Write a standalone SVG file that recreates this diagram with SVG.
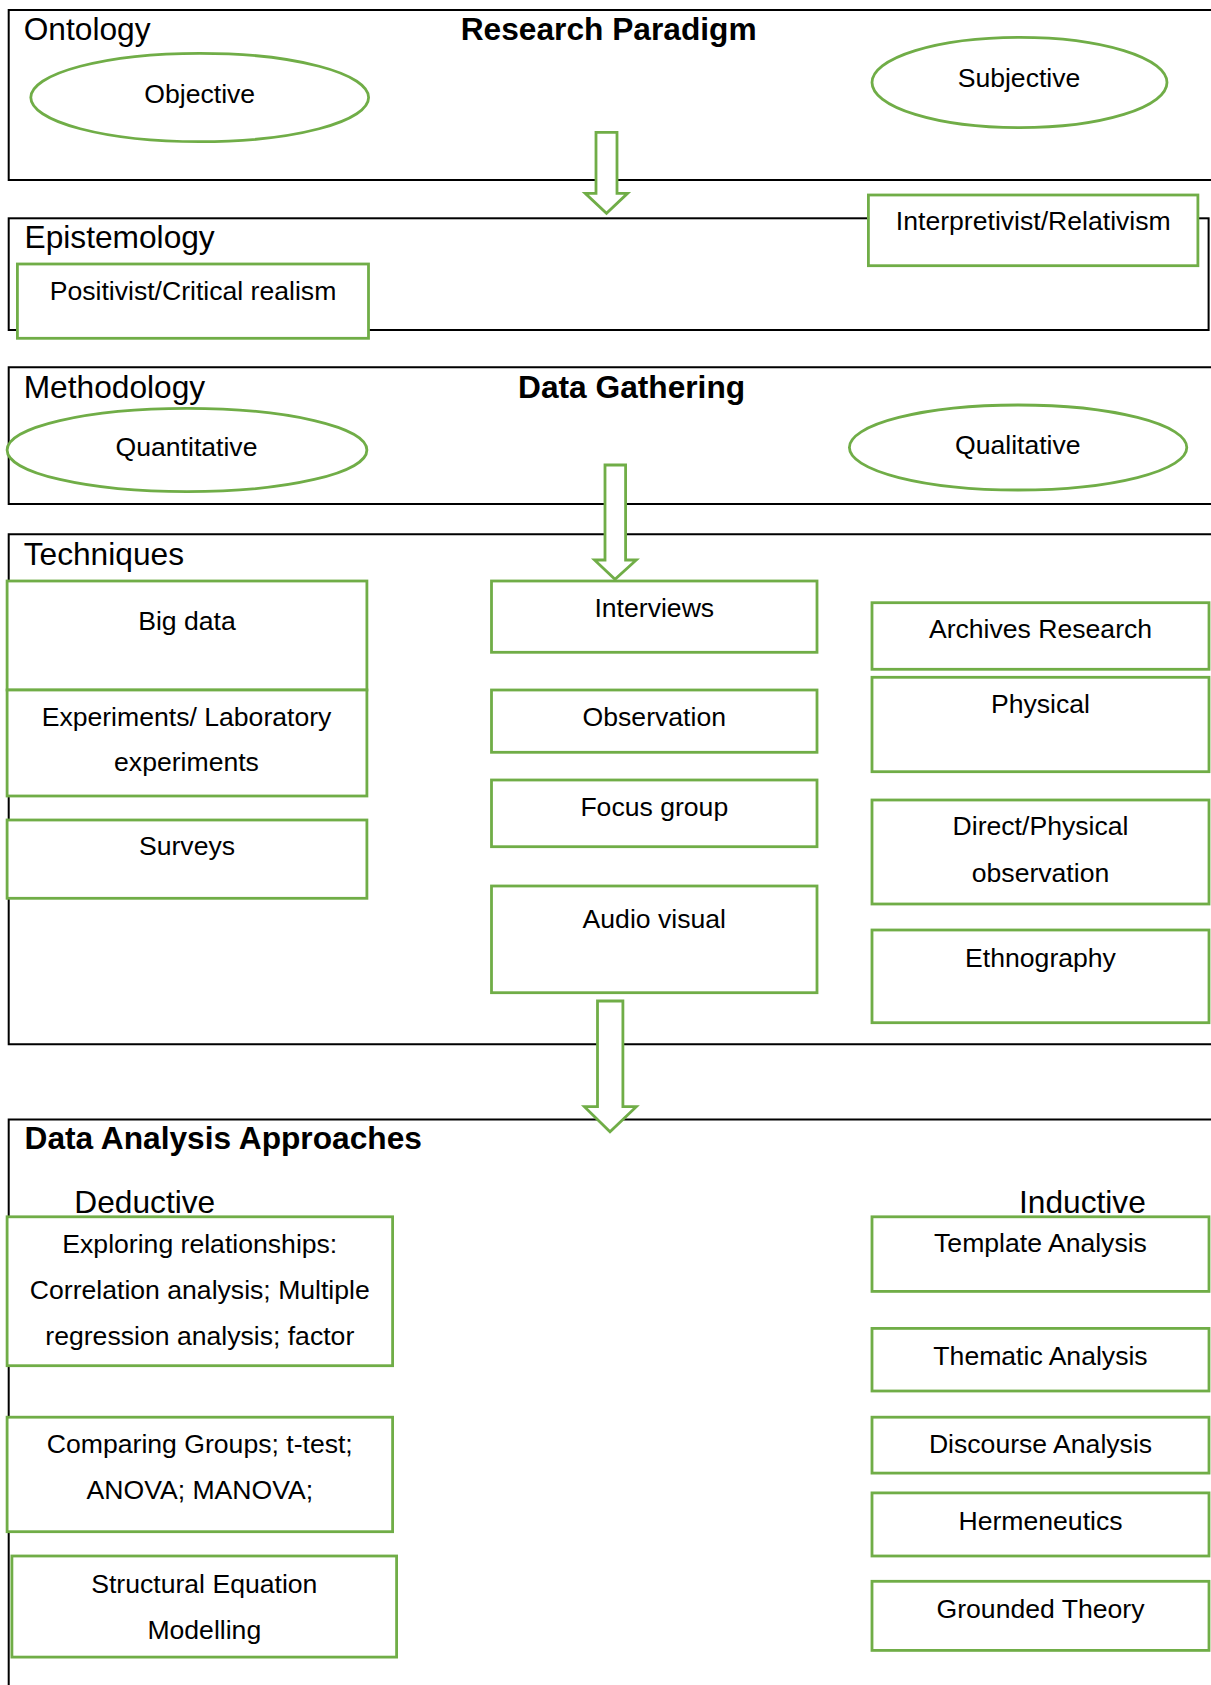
<svg xmlns="http://www.w3.org/2000/svg" width="1211" height="1685" viewBox="0 0 1211 1685">
<style>
.sec{fill:none;stroke:#000;stroke-width:2}
.nd{fill:#fff;stroke:#70AD47;stroke-width:2.8}
.arr{fill:#fff;stroke:#70AD47;stroke-width:2.8;stroke-linejoin:miter}
text{font-family:"Liberation Sans",Arial,sans-serif;fill:#000}
.h{font-size:31.7px}
.hb{font-size:31.7px;font-weight:bold}
.t{font-size:26.6px;text-anchor:middle}
</style>
<rect width="1211" height="1685" fill="#fff"/>
<g id="sections">
  <g id="ontology-section">
    <path class="sec" d="M1215,10 H8.7 V180 H1215"/>
    <text class="h" x="23.7" y="40">Ontology</text>
    <text class="hb" x="460.7" y="40">Research Paradigm</text>
  </g>
  <g id="epistemology-section">
    <rect class="sec" x="8.7" y="218.3" width="1199.9" height="111.7"/>
    <text class="h" x="24.5" y="248">Epistemology</text>
  </g>
  <g id="methodology-section">
    <path class="sec" d="M1215,367.3 H8.7 V504 H1215"/>
    <text class="h" x="23.7" y="398.3">Methodology</text>
    <text class="hb" x="518" y="398.3">Data Gathering</text>
  </g>
  <g id="techniques-section">
    <path class="sec" d="M1215,534.3 H8.7 V1044.3 H1215"/>
    <text class="h" x="23.7" y="565">Techniques</text>
  </g>
  <g id="analysis-section">
    <path class="sec" d="M1215,1119.4 H8.7 V1690"/>
    <text class="hb" x="24.5" y="1149.3">Data Analysis Approaches</text>
    <text class="h" x="74.3" y="1212.7">Deductive</text>
    <text class="h" x="1019" y="1212.7">Inductive</text>
  </g>
</g>
<g id="nodes">
  <g id="objective"><ellipse class="nd" cx="199.7" cy="97.5" rx="168.9" ry="44.2"/><text class="t" x="199.7" y="103.3">Objective</text></g>
  <g id="subjective"><ellipse class="nd" cx="1019.5" cy="82.5" rx="147.5" ry="45.2"/><text class="t" x="1019" y="87.3">Subjective</text></g>
  <g id="positivist"><rect class="nd" x="17.4" y="264" width="351.1" height="74.3"/><text class="t" x="193" y="300">Positivist/Critical realism</text></g>
  <g id="interpretivist"><rect class="nd" x="868.4" y="195" width="329.5" height="70.7"/><text class="t" x="1033.3" y="230">Interpretivist/Relativism</text></g>
  <g id="quantitative"><ellipse class="nd" cx="187" cy="450" rx="179.9" ry="41.7"/><text class="t" x="186.5" y="456">Quantitative</text></g>
  <g id="qualitative"><ellipse class="nd" cx="1018.1" cy="447.5" rx="168.7" ry="42.5"/><text class="t" x="1017.8" y="454">Qualitative</text></g>
  <g id="big-data"><rect class="nd" x="7.1" y="581" width="359.8" height="109"/><text class="t" x="187" y="630">Big data</text></g>
  <g id="experiments"><rect class="nd" x="7.1" y="690" width="359.8" height="106"/><text class="t" x="186.5" y="726">Experiments/ Laboratory</text><text class="t" x="186.5" y="770.7">experiments</text></g>
  <g id="surveys"><rect class="nd" x="7.1" y="820" width="359.8" height="78.3"/><text class="t" x="187" y="855">Surveys</text></g>
  <g id="interviews"><rect class="nd" x="491.5" y="581" width="325.5" height="71.3"/><text class="t" x="654.3" y="616.7">Interviews</text></g>
  <g id="observation"><rect class="nd" x="491.5" y="690" width="325.5" height="62.3"/><text class="t" x="654.3" y="726">Observation</text></g>
  <g id="focus-group"><rect class="nd" x="491.5" y="780" width="325.5" height="66.7"/><text class="t" x="654.3" y="815.5">Focus group</text></g>
  <g id="audio-visual"><rect class="nd" x="491.5" y="886" width="325.5" height="106.7"/><text class="t" x="654.3" y="927.7">Audio visual</text></g>
  <g id="archives"><rect class="nd" x="872" y="602.7" width="337" height="66.6"/><text class="t" x="1040.5" y="638.3">Archives Research</text></g>
  <g id="physical"><rect class="nd" x="872" y="677.3" width="337" height="94.4"/><text class="t" x="1040.5" y="713.3">Physical</text></g>
  <g id="direct-observation"><rect class="nd" x="872" y="800" width="337" height="104"/><text class="t" x="1040.5" y="835">Direct/Physical</text><text class="t" x="1040.5" y="881.7">observation</text></g>
  <g id="ethnography"><rect class="nd" x="872" y="930" width="337" height="92.7"/><text class="t" x="1040.5" y="966.7">Ethnography</text></g>
  <g id="exploring"><rect class="nd" x="7.1" y="1216.8" width="385.5" height="148.9"/><text class="t" x="199.8" y="1253">Exploring relationships:</text><text class="t" x="199.8" y="1298.9">Correlation analysis; Multiple</text><text class="t" x="199.8" y="1345.1">regression analysis; factor</text></g>
  <g id="comparing"><rect class="nd" x="7.1" y="1417.2" width="385.5" height="114.5"/><text class="t" x="199.8" y="1453.4">Comparing Groups; t-test;</text><text class="t" x="199.8" y="1499.3">ANOVA; MANOVA;</text></g>
  <g id="sem"><rect class="nd" x="11.9" y="1556" width="384.7" height="101.1"/><text class="t" x="204.3" y="1593.3">Structural Equation</text><text class="t" x="204.3" y="1639.2">Modelling</text></g>
  <g id="template"><rect class="nd" x="872" y="1216.8" width="337" height="74.6"/><text class="t" x="1040.5" y="1252.2">Template Analysis</text></g>
  <g id="thematic"><rect class="nd" x="872" y="1328.4" width="337" height="62.6"/><text class="t" x="1040.5" y="1364.9">Thematic Analysis</text></g>
  <g id="discourse"><rect class="nd" x="872" y="1417.2" width="337" height="55.9"/><text class="t" x="1040.5" y="1452.6">Discourse Analysis</text></g>
  <g id="hermeneutics"><rect class="nd" x="872" y="1492.9" width="337" height="63.1"/><text class="t" x="1040.5" y="1529.9">Hermeneutics</text></g>
  <g id="grounded"><rect class="nd" x="872" y="1581.3" width="337" height="69.1"/><text class="t" x="1040.5" y="1617.9">Grounded Theory</text></g>
</g>
<g id="connectors">
  <polygon class="arr" points="596,132.3 617,132.3 617,193.3 627.6,193.3 606.5,213.3 585.2,193.3 596,193.3"/>
  <polygon class="arr" points="605,465 625.6,465 625.6,560 636.3,560 615,579.3 594.5,560 605,560"/>
  <polygon class="arr" points="597.5,1001 622.9,1001 622.9,1106.7 636.3,1106.7 610,1131.7 584.4,1106.7 597.5,1106.7"/>
</g>
</svg>
